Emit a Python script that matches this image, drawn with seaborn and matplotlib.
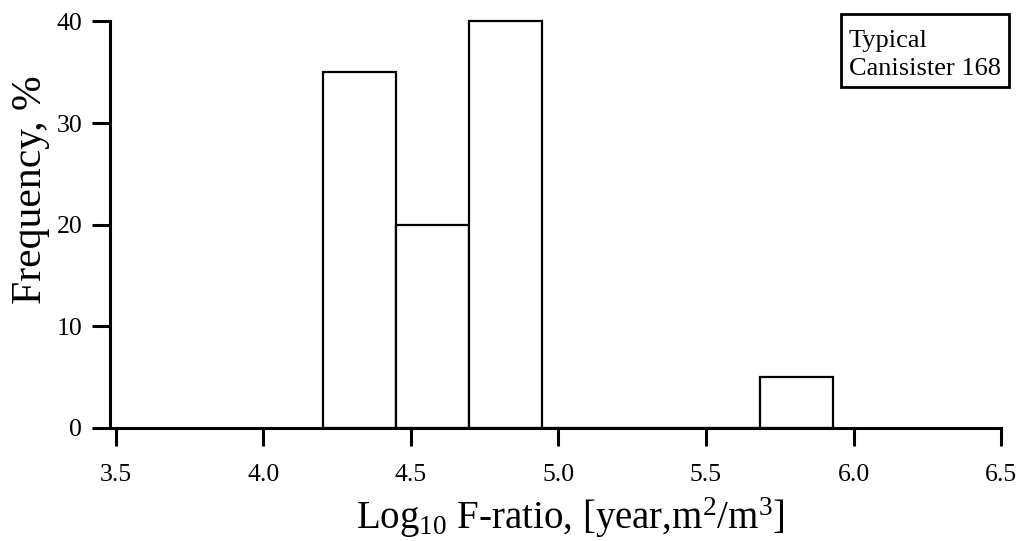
import numpy as np
import matplotlib
matplotlib.use("Agg")
import matplotlib.pyplot as plt
from matplotlib.patches import Rectangle
import seaborn as sns

# Histogram of log10 F-ratio for one canister (percent of realizations per bin)
bin_edges = [4.203, 4.450, 4.697, 4.943, 5.190, 5.437, 5.683, 5.930]
frequency_pct = [35, 20, 40, 0, 0, 0, 5]
x_ticks = [3.5, 4.0, 4.5, 5.0, 5.5, 6.0, 6.5]
x_tick_labels = ["3.5", "4.0", "4.5", "5.0", "5.5", "6.0", "6.5"]
y_ticks = [0, 10, 20, 30, 40]
legend_lines = ["Typical", "Canisister 168"]

sns.set_theme(style="white")
plt.rcParams["font.family"] = ["Liberation Serif", "DejaVu Serif"]
plt.rcParams["mathtext.fontset"] = "custom"
plt.rcParams["mathtext.rm"] = "Liberation Serif"
plt.rcParams["mathtext.it"] = "Liberation Serif:italic"

fig = plt.figure(figsize=(10.22, 5.41), dpi=100)
ax = fig.add_axes([0.1076, 0.2089, 0.8719, 0.7514])

centers = [(a + b) / 2 for a, b in zip(bin_edges[:-1], bin_edges[1:])]
sns.histplot(x=centers, weights=frequency_pct, bins=bin_edges, stat="count",
             element="bars", fill=True, color="white", edgecolor="black",
             linewidth=1.6, alpha=1, ax=ax, clip_on=False)

ax.set_xlim(3.48, 6.5)
ax.set_ylim(0, 40)
ax.set_xticks(x_ticks)
ax.set_xticklabels(x_tick_labels)
ax.set_yticks(y_ticks)

for side in ("top", "right"):
    ax.spines[side].set_visible(False)
for side in ("left", "bottom"):
    ax.spines[side].set_linewidth(2.2)
    ax.spines[side].set_color("black")
    ax.spines[side].set_zorder(5)

ax.tick_params(axis="both", which="major", direction="out", length=13,
               width=2.2, color="black", labelsize=18.5, labelcolor="black")
ax.tick_params(axis="y", pad=7, left=True)
ax.tick_params(axis="x", pad=13, bottom=True)

ax.set_xlabel(r"Log$_{\mathrm{10}}$ F-ratio, [year,m$^{\mathrm{2}}$/m$^{\mathrm{3}}$]",
              fontsize=28, color="black")
ax.set_ylabel("Frequency, %", fontsize=30, color="black")
ax.xaxis.set_label_coords(0.517, -0.166)
ax.yaxis.set_label_coords(-0.067, 0.585)

# Annotation box in the upper right corner
fig.patches.append(Rectangle((0.8229, 0.8392), 0.1644, 0.1349,
                             transform=fig.transFigure, facecolor="white",
                             edgecolor="black", linewidth=2.0, zorder=10))
for line, y in zip(legend_lines, (0.9131, 0.8614)):
    fig.text(0.8307, y, line, fontsize=19, ha="left", va="baseline",
             color="black", zorder=11)

fig.savefig("out.png", dpi=100, facecolor="white")
